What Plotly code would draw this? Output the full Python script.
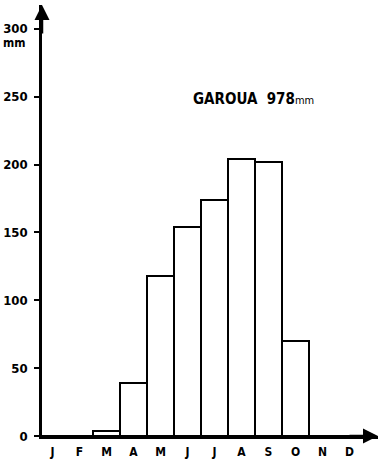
import plotly.graph_objects as go

months = ["J", "F", "M", "A", "M", "J", "J", "A", "S", "O", "N", "D"]
rain_mm = [0, 0, 4, 39, 118, 154, 174, 204, 202, 70, 0, 0]
y_ticks = [0, 50, 100, 150, 200, 250, 300]
station = "GAROUA"
total_mm = 978

FONT = "DejaVu Sans Condensed"
x_idx = list(range(len(months)))

fig = go.Figure()
fig.add_trace(go.Bar(
    x=x_idx, y=rain_mm, width=1.0,
    marker=dict(color="white", line=dict(color="black", width=2)),
    hoverinfo="skip",
))

xmin, xmax = -0.389, 12.055
ymax = 317.6

fig.update_layout(
    width=380, height=462,
    margin=dict(l=42, r=2, t=5, b=26),
    paper_bgcolor="white", plot_bgcolor="white",
    showlegend=False, bargap=0,
    font=dict(family=FONT, size=12, color="black"),
    xaxis=dict(
        range=[xmin, xmax], tickvals=x_idx, ticktext=months,
        showline=True, linecolor="black", linewidth=2.5,
        showgrid=False, zeroline=False, ticks="", ticklabelstandoff=3,
        tickfont=dict(family=FONT, size=12, weight="bold"),
        fixedrange=True,
    ),
    yaxis=dict(
        range=[0, ymax], tickvals=y_ticks, ticktext=[str(v) for v in y_ticks],
        showline=True, linecolor="black", linewidth=2.5,
        showgrid=False, zeroline=False, ticks="outside", ticklen=5,
        tickwidth=1.5, tickcolor="black", ticklabelstandoff=4,
        tickfont=dict(family=FONT, size=13, weight="bold"),
        fixedrange=True,
    ),
)

# axis arrows
fig.add_annotation(x=xmin, y=ymax, xref="x", yref="y", ax=0, ay=30,
                   showarrow=True, arrowhead=2, arrowsize=1.2, arrowwidth=2.5,
                   arrowcolor="black", text="")
fig.add_annotation(x=xmax, y=0, xref="x", yref="y", ax=-30, ay=0,
                   showarrow=True, arrowhead=2, arrowsize=1.2, arrowwidth=2.5,
                   arrowcolor="black", text="")

# unit label under 300
fig.add_annotation(x=0, xref="paper", xanchor="right", xshift=-14,
                   y=300, yref="y", yshift=-14, showarrow=False,
                   text="<b>mm</b>", font=dict(family=FONT, size=12))

# station title
fig.add_annotation(x=0.63, xref="paper", y=250, yref="y", yshift=-2,
                   showarrow=False,
                   text=f"<b>{station}  {total_mm}</b><span style='font-size:11px'>mm</span>",
                   font=dict(family=FONT, size=15))

fig.write_html("out.html")
